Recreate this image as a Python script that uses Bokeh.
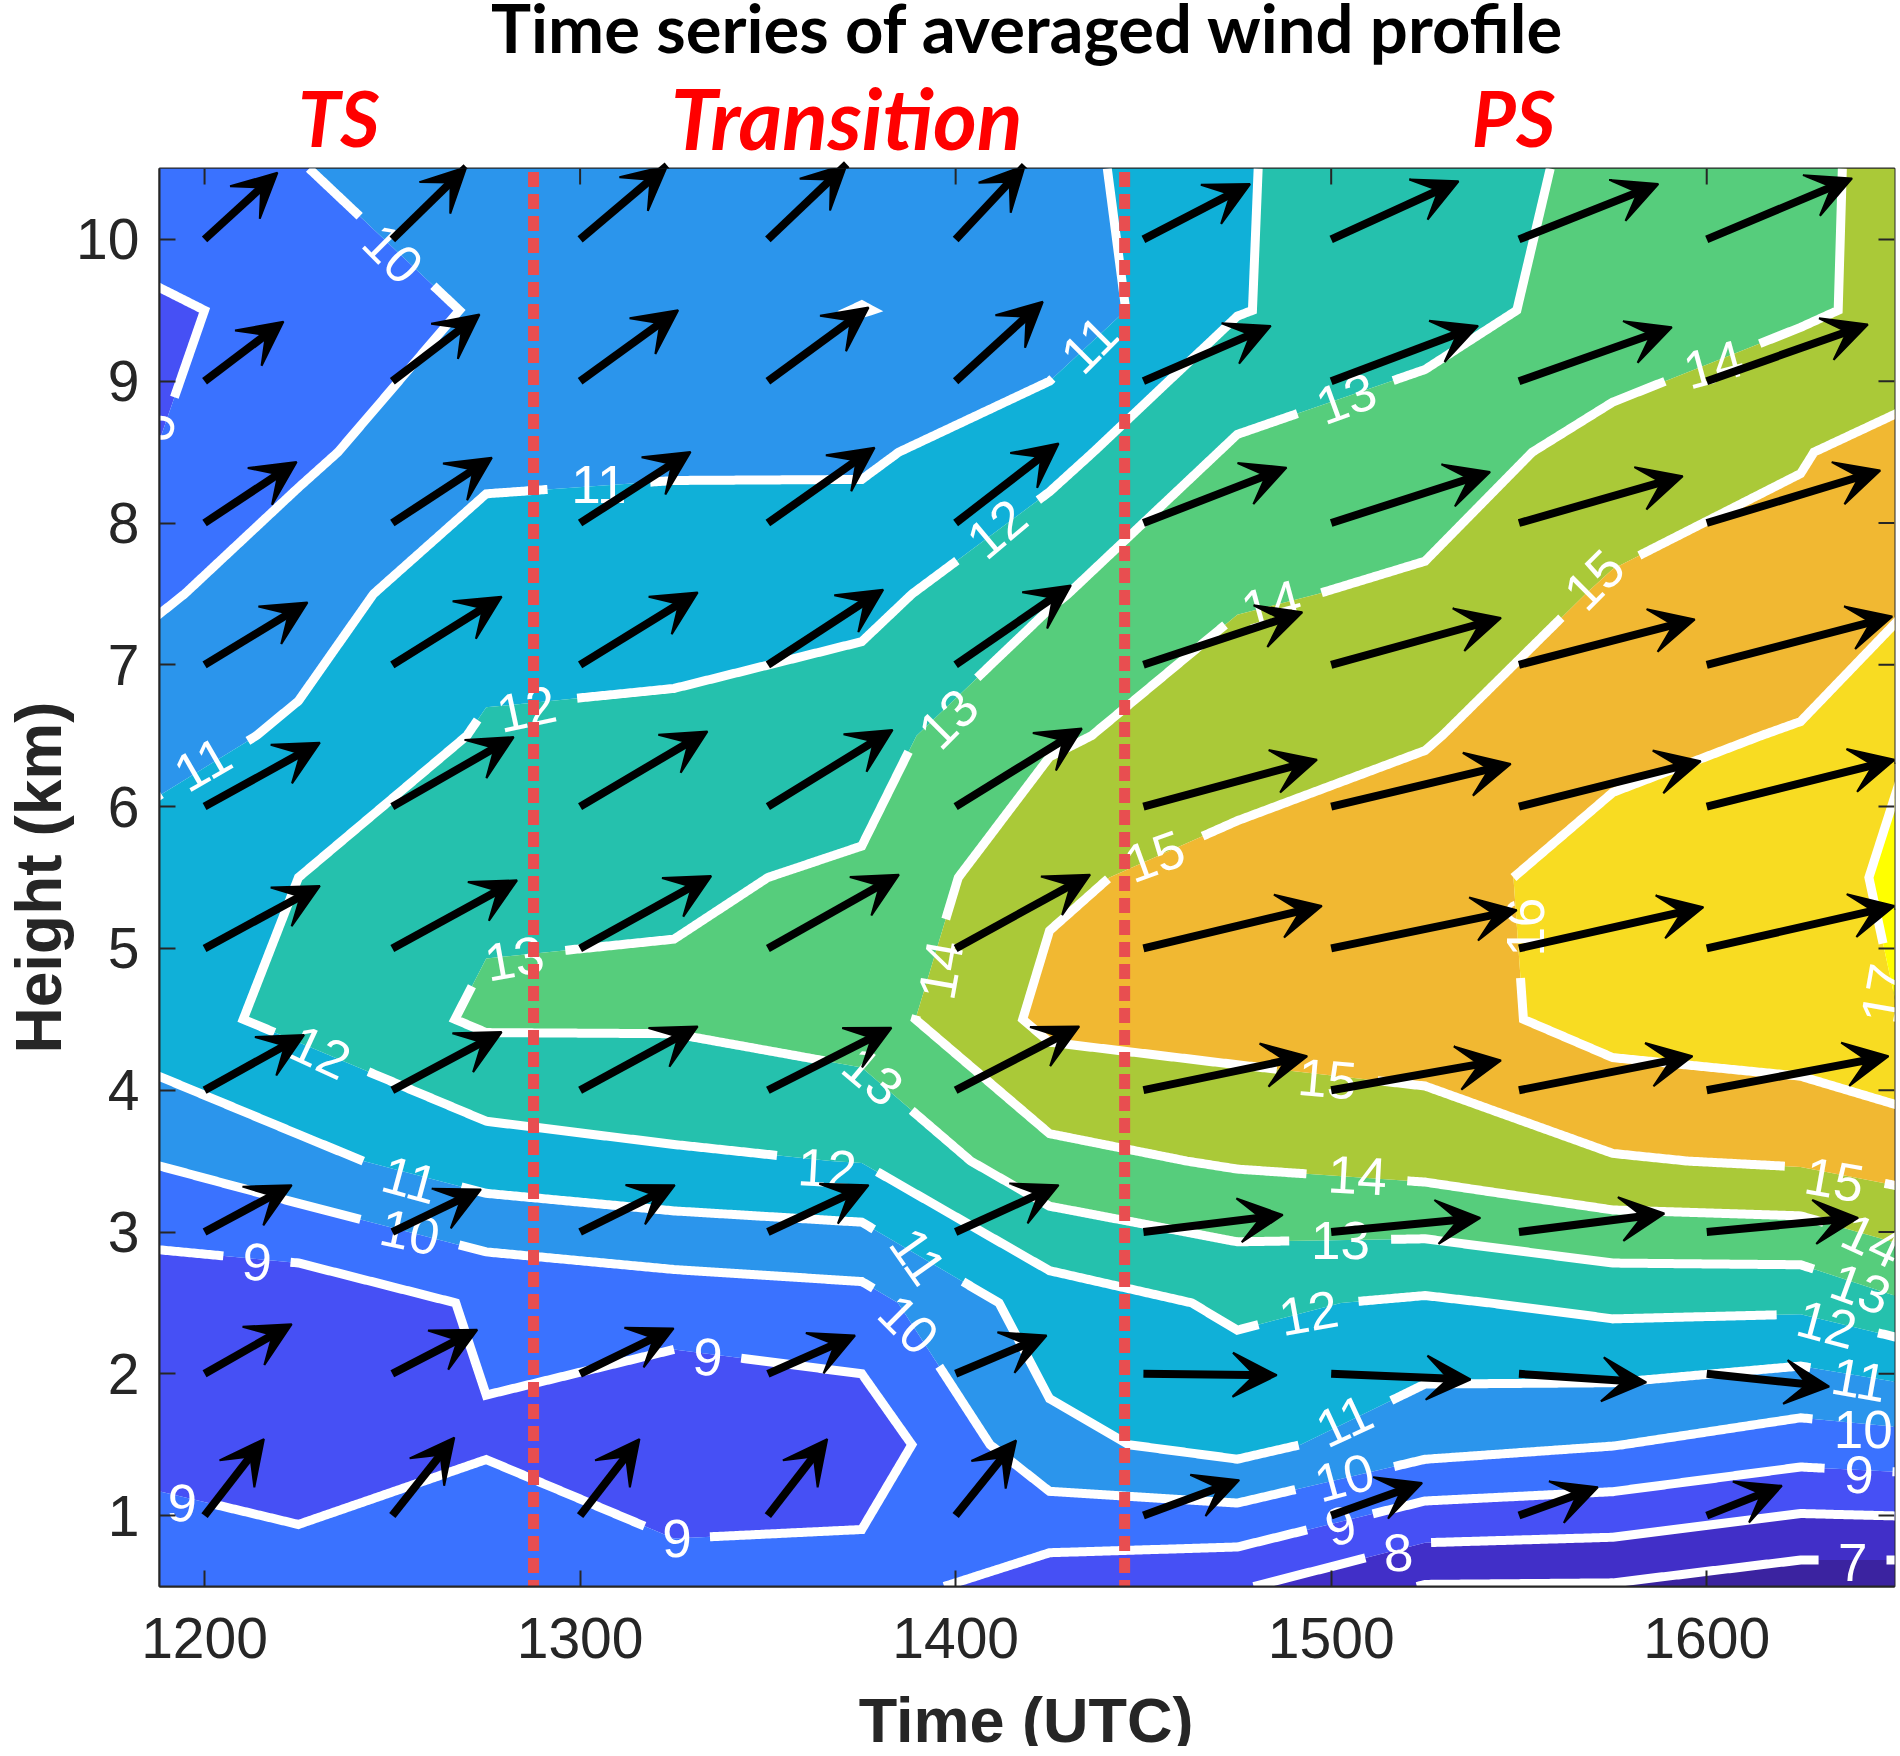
import numpy as np
from bokeh.core.properties import value
from bokeh.embed import file_html
from bokeh.layouts import column
from bokeh.models import Arrow, ColumnDataSource, FixedTicker, Range1d, VeeHead
from bokeh.plotting import figure
from bokeh.plotting.contour import contour_data
from bokeh.resources import INLINE

times = [1175, 1225, 1275, 1325, 1375, 1425, 1475, 1525, 1575, 1625, 1675]
heights = [0.5, 1.5, 2.5, 3.5, 4.5, 5.5, 6.5, 7.5, 8.5, 9.5, 10.5]
z_1175 = [9.55, 8.82, 8.41, 9.86, 11.4, 11.26, 10.55, 9.61, 8.75, 8.6, 9.8]
z_1225 = [9.35, 8.55, 8.33, 10.71, 12.25, 12.0, 11.13, 10.6, 9.8, 9.4, 9.97]
z_1275 = [9.6, 8.93, 9.13, 11.55, 13.15, 12.8, 12.1, 11.6, 10.75, 10.1, 10.5]
z_1325 = [9.45, 8.12, 9.43, 11.85, 13.13, 12.9, 12.2, 11.6, 10.85, 10.3, 10.6]
z_1375 = [9.43, 8.36, 9.64, 12.03, 13.5, 13.1, 12.65, 11.67, 10.84, 9.98, 10.5]
z_1425 = [8.45, 10.76, 11.5, 13.7, 15.25, 14.85, 13.85, 12.9, 11.65, 10.35, 10.6]
z_1475 = [8.1, 11.33, 12.16, 14.11, 15.42, 15.32, 14.52, 13.91, 13.15, 11.95, 11.9]
z_1525 = [6.95, 10.35, 11.87, 14.37, 15.56, 15.6, 14.93, 14.12, 13.6, 12.57, 12.8]
z_1575 = [6.92, 10.03, 12.25, 14.92, 16.4, 16.45, 15.7, 15.15, 14.3, 13.45, 13.1]
z_1625 = [6.43, 9.48, 12.22, 15.12, 16.59, 16.8, 16.08, 15.28, 14.95, 13.87, 13.9]
z_1675 = [6.37, 9.76, 13.48, 15.65, 17.37, 17.35, 17.6, 16.38, 15.65, 14.52, 14.35]

levels = [6, 7, 8, 9, 10, 11, 12, 13, 14, 15, 16, 17, 18]
band_colors = ["#3b23a0", "#412fc8", "#4650f5", "#3a72ff", "#2b95ec", "#10b0d8",
               "#25c1ad", "#56cd7c", "#aac938", "#f1b832", "#f8dc22", "#ffff00"]

# contour labels: level, time, height, rotation
lab_level = [10, 9, 11, 11, 12, 13, 12, 11, 10, 9, 9, 9, 9, 12, 13, 11, 10, 13, 14, 12, 11, 15,
             14, 13, 14, 15, 16, 17, 15, 14, 13, 12, 11, 10, 9, 8, 7, 9, 10, 11, 12, 13, 14, 15]
lab_time = [1250.2, 1187, 1305, 1199.5, 1285.7, 1282.5, 1230.9, 1254.7, 1254.7, 1214, 1194,
            1325.8, 1334, 1365.8, 1378, 1390, 1387.5, 1398, 1396, 1411, 1435.6, 1453,
            1484, 1504, 1601.8, 1570, 1551.7, 1647, 1499, 1507, 1502.5, 1494, 1503.5, 1503.5,
            1502.5, 1517.8, 1638.9, 1640.5, 1641.7, 1640.6, 1632, 1641, 1644, 1634]
lab_height = [9.9, 8.68, 8.27, 6.3, 6.69, 4.93, 4.27, 3.37, 3.0, 2.79, 1.09,
              0.835, 2.12, 3.45, 4.1, 2.83, 2.35, 6.62, 4.85, 7.96, 9.26, 5.65,
              7.43, 8.88, 9.12, 7.6, 5.15, 4.68, 4.08, 3.4, 2.94, 2.43, 1.67, 1.27,
              0.93, 0.74, 0.67, 1.29, 1.61, 1.96, 2.35, 2.6, 2.94, 3.37]
lab_angle = [-45, -105, 0, 30, 12, 10, -25, -15, -12, -5, -5,
             0, -5, -3, -40, -55, -45, 45, 80, 40, 45, 20,
             15, 20, 15, 45, 90, 80, -5, -3, 0, 10, 25, 15,
             15, 5, 0, -3, 0, -10, -15, -20, -25, -10]

# wind arrows: one row per height 1..10, one value per time 1200..1600
arrow_times = [1200, 1250, 1300, 1350, 1400, 1450, 1500, 1550, 1600]
arrow_heights = [1, 2, 3, 4, 5, 6, 7, 8, 9, 10]
U = [[15.8, 16.5, 15.8, 15.8, 16.1, 25.5, 24.2, 21.0, 20.0],
     [23.2, 22.6, 24.9, 23.2, 24.2, 35.5, 37.1, 33.9, 32.6],
     [23.2, 23.6, 25.2, 26.8, 27.4, 37.1, 39.7, 38.7, 40.3],
     [26.5, 29.1, 31.3, 32.9, 32.9, 43.6, 45.2, 46.2, 48.4],
     [30.7, 33.2, 34.9, 34.9, 35.8, 47.5, 49.4, 49.1, 50.0],
     [30.7, 32.3, 33.9, 33.2, 33.6, 46.2, 47.8, 48.4, 50.0],
     [27.4, 29.1, 31.3, 30.7, 30.7, 42.3, 45.2, 46.8, 49.4],
     [24.5, 26.5, 29.4, 28.4, 27.4, 38.1, 42.3, 43.6, 46.2],
     [21.0, 23.2, 26.1, 26.8, 23.2, 33.9, 39.1, 40.7, 42.9],
     [19.4, 19.7, 23.2, 21.0, 18.4, 28.4, 33.9, 37.1, 38.7]]
V = [[0.54, 0.55, 0.54, 0.54, 0.53, 0.25, 0.23, 0.20, 0.21],
     [0.35, 0.31, 0.32, 0.27, 0.27, -0.01, -0.04, -0.06, -0.09],
     [0.33, 0.30, 0.33, 0.33, 0.33, 0.12, 0.10, 0.13, 0.10],
     [0.39, 0.41, 0.45, 0.44, 0.45, 0.24, 0.21, 0.24, 0.24],
     [0.44, 0.48, 0.51, 0.52, 0.52, 0.30, 0.27, 0.29, 0.30],
     [0.45, 0.49, 0.53, 0.54, 0.55, 0.33, 0.30, 0.32, 0.33],
     [0.44, 0.48, 0.51, 0.53, 0.56, 0.37, 0.33, 0.32, 0.34],
     [0.43, 0.46, 0.50, 0.53, 0.56, 0.39, 0.36, 0.33, 0.37],
     [0.42, 0.47, 0.50, 0.52, 0.56, 0.39, 0.39, 0.38, 0.40],
     [0.47, 0.51, 0.52, 0.53, 0.52, 0.39, 0.41, 0.39, 0.43]]

phase_times = [1287.6, 1445]
phase_names = ["TS", "Transition", "PS"]
phase_label_times = [1235.9, 1371.7, 1550]
phase_font_sizes = ["76px", "84px", "76px"]
x_ticks = [1200, 1300, 1400, 1500, 1600]
y_ticks = [1, 2, 3, 4, 5, 6, 7, 8, 9, 10]

INK = "#262626"
PX_X, PX_Y = 3.754, 141.7   # pixels per data unit
XR = (1188, 1650)

Z = np.column_stack([z_1175, z_1225, z_1275, z_1325, z_1375, z_1425, z_1475, z_1525, z_1575, z_1625, z_1675])


def strip(height, y_range):
    f = figure(width=1892, height=height, output_backend="svg", toolbar_location=None,
               x_range=Range1d(*XR), y_range=Range1d(*y_range), x_axis_type=None, y_axis_type=None,
               min_border_left=152, min_border_right=5, min_border_top=0, min_border_bottom=0,
               outline_line_color=None, background_fill_color=None, border_fill_color=None)
    f.grid.visible = False
    return f


head = strip(152, (10.5 + 8 / PX_Y, 10.5 + 160 / PX_Y))
head.text(x=[1420.2], y=[11.44], text=["Time series of averaged wind profile"], text_color="black",
          text_font=value("Lato"), text_font_style="bold", text_font_size="67px",
          text_align="center", text_baseline="alphabetic")
for name, t, size in zip(phase_names, phase_label_times, phase_font_sizes):
    head.text(x=[t], y=[10.80], text=[name], text_color="#ff0000",
              text_font=value("Lato"), text_font_style="bold italic", text_font_size=size,
              text_align="center", text_baseline="alphabetic")

p = figure(width=1892, height=1532, output_backend="svg", toolbar_location=None,
           x_range=Range1d(*XR), y_range=Range1d(0.5, 10.5),
           frame_width=1735, frame_height=1418,
           min_border_left=152, min_border_top=16, min_border_right=5, min_border_bottom=98,
           y_axis_label="Height (km)", background_fill_color=None)
p.grid.visible = False
p.outline_line_color = INK
p.outline_line_width = 2

p.contour(times, heights, Z, levels, fill_color=band_colors, line_color=None)

# white contour lines, broken where a label sits on them
data = contour_data(times, heights, Z, levels, want_fill=False, want_line=True)
line_xs, line_ys = [], []
for level, xs, ys in zip(data.line_data.levels, data.line_data.xs, data.line_data.ys):
    xs, ys = np.asarray(xs, float), np.asarray(ys, float)
    centres = [(t, h, 33 if len(str(l)) == 1 else 50) for l, t, h in zip(lab_level, lab_time, lab_height) if l == level]
    breaks = np.where(np.isnan(xs))[0]
    for seg in np.split(np.arange(len(xs)), breaks):
        seg = seg[~np.isnan(xs[seg])]
        if len(seg) < 2:
            continue
        px, py = [], []
        sx, sy = xs[seg], ys[seg]
        for i in range(len(sx) - 1):
            d = np.hypot((sx[i + 1] - sx[i]) * PX_X, (sy[i + 1] - sy[i]) * PX_Y)
            n = max(2, int(d / 2) + 2)
            f = np.linspace(0, 1, n)[:-1]
            px.extend(sx[i] + f * (sx[i + 1] - sx[i]))
            py.extend(sy[i] + f * (sy[i + 1] - sy[i]))
        px.append(sx[-1])
        py.append(sy[-1])
        px, py = np.array(px), np.array(py)
        keep = np.ones(len(px), bool)
        for t, h, r in centres:
            keep &= np.hypot((px - t) * PX_X, (py - h) * PX_Y) > r
        start = None
        for i, k in enumerate(list(keep) + [False]):
            if k and start is None:
                start = i
            elif not k and start is not None:
                if i - start > 1:
                    line_xs.append(px[start:i].tolist())
                    line_ys.append(py[start:i].tolist())
                start = None
p.multi_line(line_xs, line_ys, line_color="white", line_width=9, line_join="miter")

p.text(x=lab_time, y=lab_height, text=[str(v) for v in lab_level], angle=lab_angle, angle_units="deg",
       text_color="white", text_font=value("Liberation Sans"), text_font_size="53px",
       text_align="center", text_baseline="middle")

for t in phase_times:
    p.line([t, t], [10.475, 0.5], line_color="#e84e50", line_width=11, line_dash="15 7")

# inward ticks along the top and the right side of the box
p.segment(x0=x_ticks, y0=[10.5] * 5, x1=x_ticks, y1=[10.5 - 16 / PX_Y] * 5, line_color=INK, line_width=2)
p.segment(x0=[XR[1]] * 10, y0=y_ticks, x1=[XR[1] - 16 / PX_X] * 10, y1=y_ticks, line_color=INK, line_width=2)

xs0, ys0, xs1, ys1 = [], [], [], []
for j, h in enumerate(arrow_heights):
    for i, t in enumerate(arrow_times):
        xs0.append(t)
        ys0.append(h)
        xs1.append(t + U[j][i])
        ys1.append(h + V[j][i])
arrow_src = ColumnDataSource(dict(x0=xs0, y0=ys0, x1=xs1, y1=ys1))
p.add_layout(Arrow(source=arrow_src, x_start="x0", y_start="y0", x_end="x1", y_end="y1",
                   line_color="black", line_width=8,
                   end=VeeHead(size=44, fill_color="black", line_color="black", line_width=2)))

xa, ya = p.xaxis[0], p.yaxis[0]
xa.ticker = FixedTicker(ticks=x_ticks)
ya.ticker = FixedTicker(ticks=y_ticks)
for ax in (xa, ya):
    ax.major_tick_in = 16
    ax.major_tick_out = 0
    ax.minor_tick_in = 0
    ax.minor_tick_out = 0
    ax.major_tick_line_color = INK
    ax.major_tick_line_width = 2
    ax.axis_line_color = INK
    ax.axis_line_width = 2
    ax.major_label_text_font = "Liberation Sans"
    ax.major_label_text_font_size = "57px"
    ax.major_label_text_color = INK
    ax.axis_label_text_font = "Liberation Sans"
    ax.axis_label_text_font_size = "64px"
    ax.axis_label_text_font_style = "bold"
    ax.axis_label_text_color = INK
xa.major_label_standoff = 31
ya.major_label_standoff = 20
ya.axis_label_standoff = -2

foot = strip(62, (0, 62))
foot.text(x=[1419.7], y=[27], text=["Time (UTC)"], text_color=INK,
          text_font=value("Liberation Sans"), text_font_style="bold", text_font_size="63px",
          text_align="center", text_baseline="alphabetic")

page = column(head, p, foot, spacing=0)
open("out.html", "w").write(file_html(page, INLINE))
